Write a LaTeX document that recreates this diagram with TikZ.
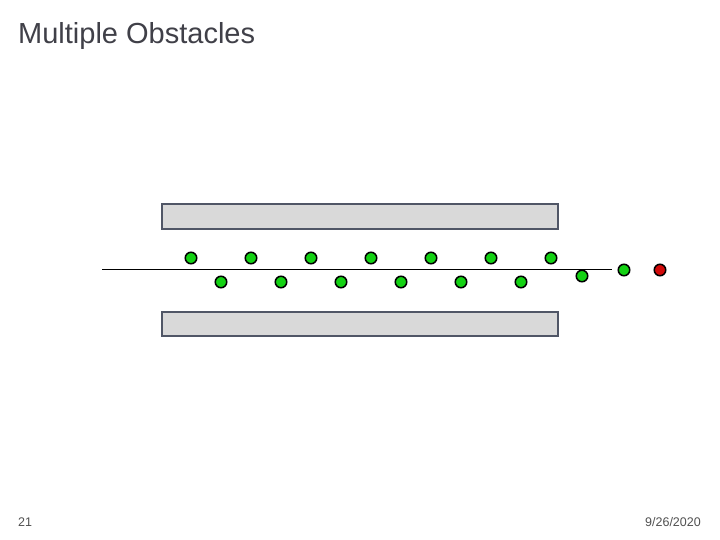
\documentclass[tikz,border=0pt]{standalone}
\usepackage{fontspec}
\setmainfont{Liberation Sans}
\usetikzlibrary{positioning}
\definecolor{slideTitle}{RGB}{64, 64, 72}
\definecolor{slideFoot}{RGB}{80, 80, 80}
\definecolor{wallFill}{RGB}{217, 217, 217}
\definecolor{wallEdge}{RGB}{80, 86, 102}
\definecolor{agentGreen}{RGB}{20, 210, 20}
\definecolor{agentRed}{RGB}{210, 10, 10}

\begin{document}
\begin{tikzpicture}[
  x=1pt, y=-1pt,
  wall/.style={draw=wallEdge, fill=wallFill, line width=2.4pt},
  agent/.style={circle, draw=black, line width=1.5pt, fill=agentGreen,
                minimum size=11.5pt, inner sep=0pt},
  goal/.style={agent, fill=agentRed}
]
\useasboundingbox (0,0) rectangle (720,540);
% title and footer
\node[anchor=base west, font=\fontsize{29}{33}\selectfont, text=slideTitle, inner sep=0pt] (title) at (18,44) {Multiple Obstacles};
\node[anchor=base west, font=\fontsize{12.5}{15}\selectfont, text=slideFoot, inner sep=0pt] (page) at (18,526) {21};
\node[anchor=base east, font=\fontsize{12.5}{15}\selectfont, text=slideFoot, inner sep=0pt] (date) at (701,526) {9/26/2020};
% obstacles
\draw[wall] (162,204) rectangle (558,229);
\draw[wall] (162,312) rectangle (558,336);
% reference line
\coordinate (lineStart) at (102,269);
\coordinate (lineEnd) at (612,269);
\draw[line width=0.8pt] (lineStart) -- (lineEnd);
% path points
\foreach \i in {0,...,6}
  \node[agent] (up\i) at ({191+60*\i},258) {};
\foreach \i in {0,...,5}
  \node[agent] (down\i) at ({221+60*\i},282) {};
\node[agent] (last) at (582,276) {};
\node[agent] (near) at (624,270) {};
\node[goal] (target) at (660,270) {};
\end{tikzpicture}
\end{document}
